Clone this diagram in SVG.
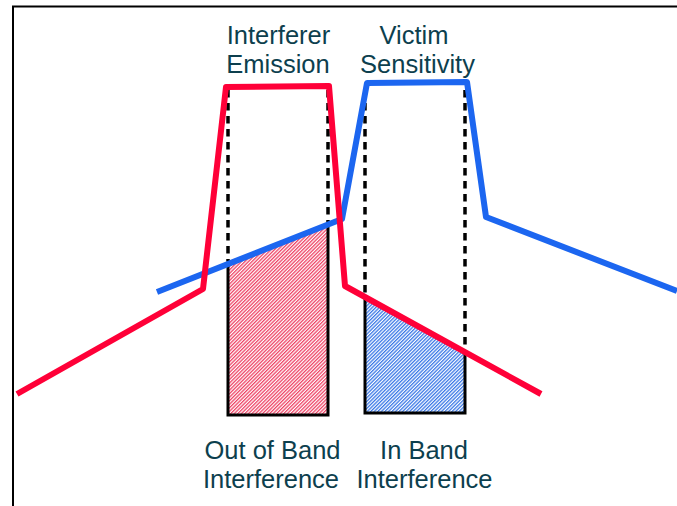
<svg xmlns="http://www.w3.org/2000/svg" width="677" height="506" viewBox="0 0 677 506">
<defs>
<pattern id="hatchRed" width="2.5" height="2.5" patternUnits="userSpaceOnUse" patternTransform="rotate(45)">
<rect width="2.5" height="2.5" fill="#ffffff"/>
<rect width="1.3" height="2.5" fill="#ee4466"/>
</pattern>
<pattern id="hatchBlue" width="2.5" height="2.5" patternUnits="userSpaceOnUse" patternTransform="rotate(45)">
<rect width="2.5" height="2.5" fill="#ffffff"/>
<rect width="1.3" height="2.5" fill="#3a78e6"/>
</pattern>
<style>
.lbl{font-family:"Liberation Sans",Arial,sans-serif;font-size:25.5px;fill:#0d3f4e;text-anchor:middle}
.dash{stroke:#000;stroke-width:3.5;stroke-dasharray:7.5 5.5;fill:none}
.outline{stroke:#000;stroke-width:3;fill:none;stroke-linejoin:miter}
.red{stroke:#ff0038;stroke-width:6;fill:none;stroke-linejoin:round;stroke-linecap:butt}
.blue{stroke:#1c66f0;stroke-width:6;fill:none;stroke-linejoin:round;stroke-linecap:butt}
</style>
</defs>
<rect width="677" height="506" fill="#ffffff"/>
<path d="M13 506 V6.5 H677" stroke="#000" stroke-width="2" fill="none"/>

<g id="out-of-band-area">
<polygon points="228,261 328,226 328,415 228,415" fill="url(#hatchRed)"/>
<polyline class="outline" points="228,261 228,415 328,415 328,226"/>
</g>
<g id="in-band-area">
<polygon points="365,298 465,353 465,413 365,413" fill="url(#hatchBlue)"/>
<polyline class="outline" points="365,298 365,413 465,413 465,353"/>
</g>

<g id="dashes">
<line class="dash" x1="228" y1="90" x2="228" y2="261"/>
<line class="dash" x1="328" y1="90" x2="328" y2="226"/>
<line class="dash" x1="365" y1="90" x2="365" y2="298"/>
<line class="dash" x1="465" y1="90" x2="465" y2="353"/>
</g>

<g id="connectors">
<polyline id="victim-sensitivity-curve" class="blue" points="157,292 342,219 367,83 467,82 486,217 677,291"/>
<polyline id="interferer-emission-curve" class="red" points="17,394 203,289 226,87 329,86 345,286 541,394"/>
</g>

<g id="label-interferer">
<text class="lbl" x="278.5" y="44">Interferer</text>
<text class="lbl" x="278" y="73">Emission</text>
</g>
<g id="label-victim">
<text class="lbl" x="414" y="44">Victim</text>
<text class="lbl" x="417.5" y="73">Sensitivity</text>
</g>
<g id="label-out-of-band">
<text class="lbl" x="272.5" y="459">Out of Band</text>
<text class="lbl" x="271" y="488">Interference</text>
</g>
<g id="label-in-band">
<text class="lbl" x="424" y="459">In Band</text>
<text class="lbl" x="424.5" y="488">Interference</text>
</g>
</svg>
